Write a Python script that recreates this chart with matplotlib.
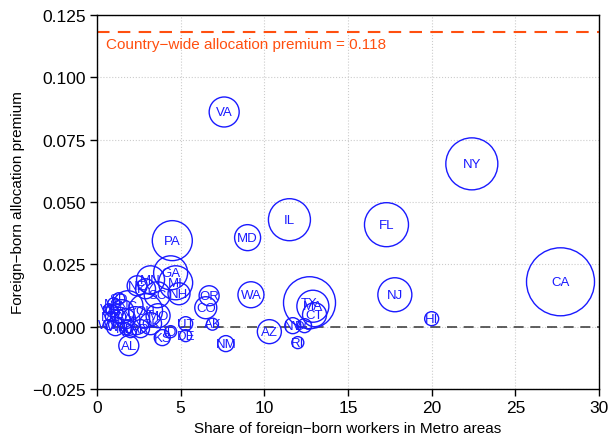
import matplotlib
matplotlib.use("Agg")
import matplotlib.pyplot as plt
import numpy as np

# ===================== 数据 =====================
states = ["VA", "NY", "FL", "IL", "MD", "PA", "GA", "MI", "NH", "OR",
          "CO", "WA", "NJ", "CA", "HI", "TX", "MA", "CT", "AZ", "NV",
          "RI", "NM", "AK", "UT", "DE", "KS", "ID", "AL", "DC", "NC",
          "WI", "MO", "IN", "OH", "TN", "NE", "MN", "SC", "LA", "OK",
          "IA", "AR", "MS", "ME", "WV", "MT", "ND", "SD", "WY", "VT",
          "KY"]
share = [7.6, 22.4, 17.3, 11.5, 9.0, 4.5, 4.4, 4.7, 4.9, 6.7,
         6.5, 9.2, 17.8, 27.7, 20.0, 12.7, 12.9, 13.0, 10.3, 11.7,
         12.0, 7.7, 6.9, 5.3, 5.3, 3.9, 4.4, 1.9, 12.4, 1.85,
         1.1, 3.65, 2.3, 2.9, 1.5, 2.4, 3.2, 3.6, 1.7, 3.2,
         1.3, 2.6, 0.9, 1.0, 0.7, 0.8, 1.7, 1.3, 2.0, 0.7,
         2.9]
premium = [0.0861, 0.0653, 0.0409, 0.0429, 0.0357, 0.0345, 0.0216, 0.0176, 0.0132, 0.0124,
           0.0076, 0.0128, 0.0128, 0.0180, 0.0032, 0.0096, 0.0082, 0.0048, -0.0020, 0.0004,
           -0.0064, -0.0068, 0.0010, 0.0012, -0.0036, -0.0044, -0.0020, -0.0076, 0.0004, 0.0084,
           0.0000, 0.0044, 0.0024, 0.0064, 0.0060, 0.0164, 0.0188, 0.0128, 0.0032, 0.0012,
           0.0040, -0.0008, 0.0064, 0.0092, 0.0008, 0.0040, -0.0008, 0.0112, -0.0020, 0.0072,
           0.0152]
# 圆圈半径（像素）
radius = [15, 26, 22, 21, 13, 20, 17, 17, 11, 10,
          11, 13, 17, 34, 7, 26, 16, 12, 12, 8,
          6, 8, 6, 7, 6, 8, 6, 10, 7, 15,
          9, 12, 14, 17, 12, 10, 14, 13, 10, 11,
          7, 9, 6, 6, 5, 5, 6, 6, 6, 5,
          10]
country_premium = 0.118

BLUE = "#1a1aff"
ORANGE = "#ff4f0f"

plt.rcParams["font.family"] = ["Liberation Sans", "DejaVu Sans"]

fig = plt.figure(figsize=(6.1, 4.35), dpi=100)
ax = fig.add_axes([97 / 610, 1 - 390 / 435, 502 / 610, 374 / 435])

sizes = [(2 * r * 0.72) ** 2 for r in radius]
ax.scatter(share, premium, s=sizes, facecolors="none", edgecolors=BLUE,
           linewidths=1.0, zorder=3)
for st, x, y in zip(states, share, premium):
    ax.text(x, y, st, color=BLUE, fontsize=9.5, ha="center", va="center", zorder=4)

ax.axhline(0, color="#444444", linestyle=(0, (6, 4)), linewidth=1.2, zorder=2)
ax.axhline(country_premium, color=ORANGE, linestyle=(0, (6, 4)), linewidth=1.5, zorder=2)
ax.text(0.55, country_premium - 0.0047, "Country\u2212wide allocation premium = %.3f" % country_premium,
        color=ORANGE, fontsize=11, ha="left", va="center")

ax.set_xlim(0, 30)
ax.set_ylim(-0.025, 0.125)
ax.set_xticks(np.arange(0, 31, 5))
ax.set_yticks(np.arange(-0.025, 0.1251, 0.025))
ax.set_yticklabels(["\u22120.025", "0.000", "0.025", "0.050", "0.075", "0.100", "0.125"])
ax.tick_params(axis="both", labelsize=12.5, direction="out", length=5, width=1.0, pad=3)
ax.grid(True, color="#cccccc", linestyle=":", linewidth=0.8, zorder=0)
ax.set_axisbelow(True)
for sp in ax.spines.values():
    sp.set_linewidth(1.0)

ax.set_xlabel("Share of foreign\u2212born workers in Metro areas", fontsize=11, labelpad=4)
ax.set_ylabel("Foreign\u2212born allocation premium", fontsize=11, labelpad=5)

fig.savefig("out.png", dpi=100)
